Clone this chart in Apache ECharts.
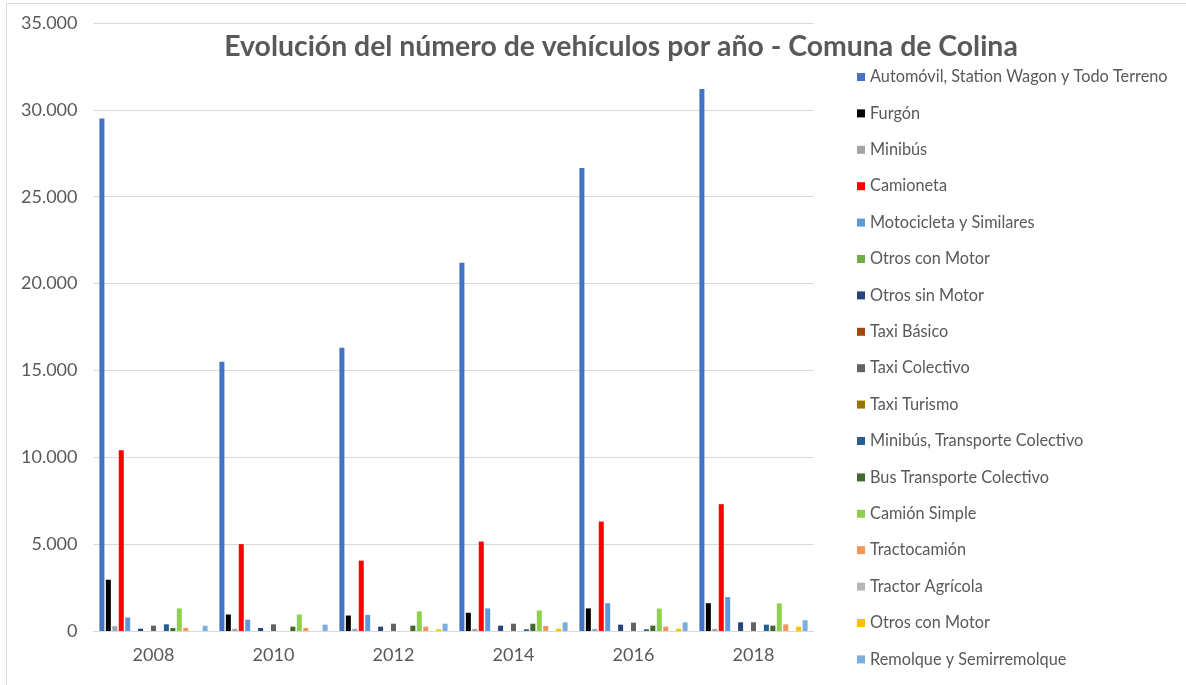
<!DOCTYPE html>
<html lang="es">
<head>
<meta charset="utf-8">
<title>Evolución del número de vehículos por año - Comuna de Colina</title>
<script src="https://cdn.jsdelivr.net/npm/echarts@6/dist/echarts.min.js"></script>
<style>
  html, body { margin: 0; padding: 0; background: #ffffff; }
  #chart { width: 1186px; height: 685px; }
</style>
</head>
<body>
<div id="chart"></div>
<script>
// Years on the category axis
const years = ['2008', '2010', '2012', '2014', '2016', '2018'];

// Vehicle types (series names) and their colours
const vehicleTypes = [
  'Automóvil, Station Wagon y Todo Terreno',
  'Furgón',
  'Minibús',
  'Camioneta',
  'Motocicleta y Similares',
  'Otros con Motor',
  'Otros sin Motor',
  'Taxi Básico',
  'Taxi Colectivo',
  'Taxi Turismo',
  'Minibús, Transporte Colectivo',
  'Bus Transporte Colectivo',
  'Camión Simple',
  'Tractocamión',
  'Tractor Agrícola',
  'Otros con Motor ',
  'Remolque y Semirremolque'
];

// Number of vehicles per year, one array per vehicle type
const automovil      = [29500, 15500, 16300, 21200, 26650, 31200];
const furgon         = [2950, 950, 890, 1050, 1300, 1600];
const minibus        = [280, 130, 130, 120, 120, 120];
const camioneta      = [10400, 5000, 4050, 5150, 6300, 7300];
const motocicleta    = [780, 650, 920, 1300, 1600, 1950];
const otrosConMotor  = [0, 0, 0, 0, 0, 0];
const otrosSinMotor  = [130, 170, 250, 310, 365, 500];
const taxiBasico     = [0, 0, 0, 0, 0, 0];
const taxiColectivo  = [310, 385, 420, 420, 480, 500];
const taxiTurismo    = [0, 0, 0, 0, 0, 0];
const minibusTC      = [385, 0, 0, 100, 100, 365];
const busTC          = [170, 250, 310, 420, 310, 310];
const camionSimple   = [1300, 950, 1130, 1180, 1290, 1590];
const tractocamion   = [180, 170, 250, 290, 250, 380];
const tractorAgricola= [0, 0, 0, 0, 0, 0];
const otrosConMotor2 = [0, 0, 100, 135, 135, 250];
const remolque       = [300, 365, 420, 500, 500, 620];

// Y axis range
const yMin = 0;
const yMax = 35000;
const yStep = 5000;

const seriesValues = [
  automovil, furgon, minibus, camioneta, motocicleta, otrosConMotor,
  otrosSinMotor, taxiBasico, taxiColectivo, taxiTurismo, minibusTC,
  busTC, camionSimple, tractocamion, tractorAgricola, otrosConMotor2, remolque
];

const palette = [
  '#4472C4', '#000000', '#A5A5A5', '#FF0000', '#5B9BD5', '#70AD47',
  '#264478', '#9E480E', '#636363', '#997300', '#255E91', '#43682B',
  '#8FD14F', '#F1975A', '#B7B7B7', '#FFC000', '#7CAFDD'
];

const textGrey = '#595959';
const lineGrey = '#D9D9D9';

// Thousands separator with a dot
function fmtThousands(v) {
  return String(v).replace(/\B(?=(\d{3})+(?!\d))/g, '.');
}

const chart = echarts.init(document.getElementById('chart'), null, { renderer: 'canvas' });

chart.setOption({
  animation: false,
  backgroundColor: '#ffffff',
  color: palette,
  title: {
    text: 'Evolución del número de vehículos por año - Comuna de Colina',
    left: 616,
    top: 28,
    textAlign: 'center',
    textStyle: {
      fontFamily: 'Lato',
      fontWeight: 'bold',
      fontSize: 28.4,
      color: textGrey
    }
  },
  legend: {
    orient: 'vertical',
    left: 852,
    top: 63,
    icon: 'rect',
    itemWidth: 8,
    itemHeight: 8,
    itemGap: 18.4,
    data: vehicleTypes,
    textStyle: {
      fontFamily: 'Lato',
      fontSize: 16.3,
      lineHeight: 18,
      color: textGrey,
      padding: [0, 0, 0, 0]
    }
  },
  grid: {
    left: 93.5,
    right: 372.5,
    top: 23,
    bottom: 54,
    containLabel: false
  },
  xAxis: {
    type: 'category',
    data: years,
    axisLine: { show: true, lineStyle: { color: lineGrey, width: 1 } },
    axisTick: { show: false },
    axisLabel: {
      fontFamily: 'Lato',
      fontSize: 18,
      color: textGrey,
      margin: 15
    },
    splitLine: { show: false }
  },
  yAxis: {
    type: 'value',
    min: yMin,
    max: yMax,
    interval: yStep,
    axisLine: { show: false },
    axisTick: { show: false },
    axisLabel: {
      fontFamily: 'Lato',
      fontSize: 18,
      color: textGrey,
      margin: 16,
      formatter: fmtThousands
    },
    splitLine: { show: true, lineStyle: { color: lineGrey, width: 1 } }
  },
  graphic: [
    // thin frame lines around the chart area
    { type: 'line', shape: { x1: 6.5, y1: 3.5, x2: 1186, y2: 3.5 }, style: { stroke: lineGrey, lineWidth: 1 }, silent: true },
    { type: 'line', shape: { x1: 6.5, y1: 3.5, x2: 6.5, y2: 685 }, style: { stroke: lineGrey, lineWidth: 1 }, silent: true }
  ],
  series: vehicleTypes.map((name, i) => ({
    name: name,
    type: 'bar',
    data: seriesValues[i],
    barWidth: 5,
    barGap: '29%',
    itemStyle: { color: palette[i] },
    emphasis: { disabled: true }
  }))
});
</script>
</body>
</html>
